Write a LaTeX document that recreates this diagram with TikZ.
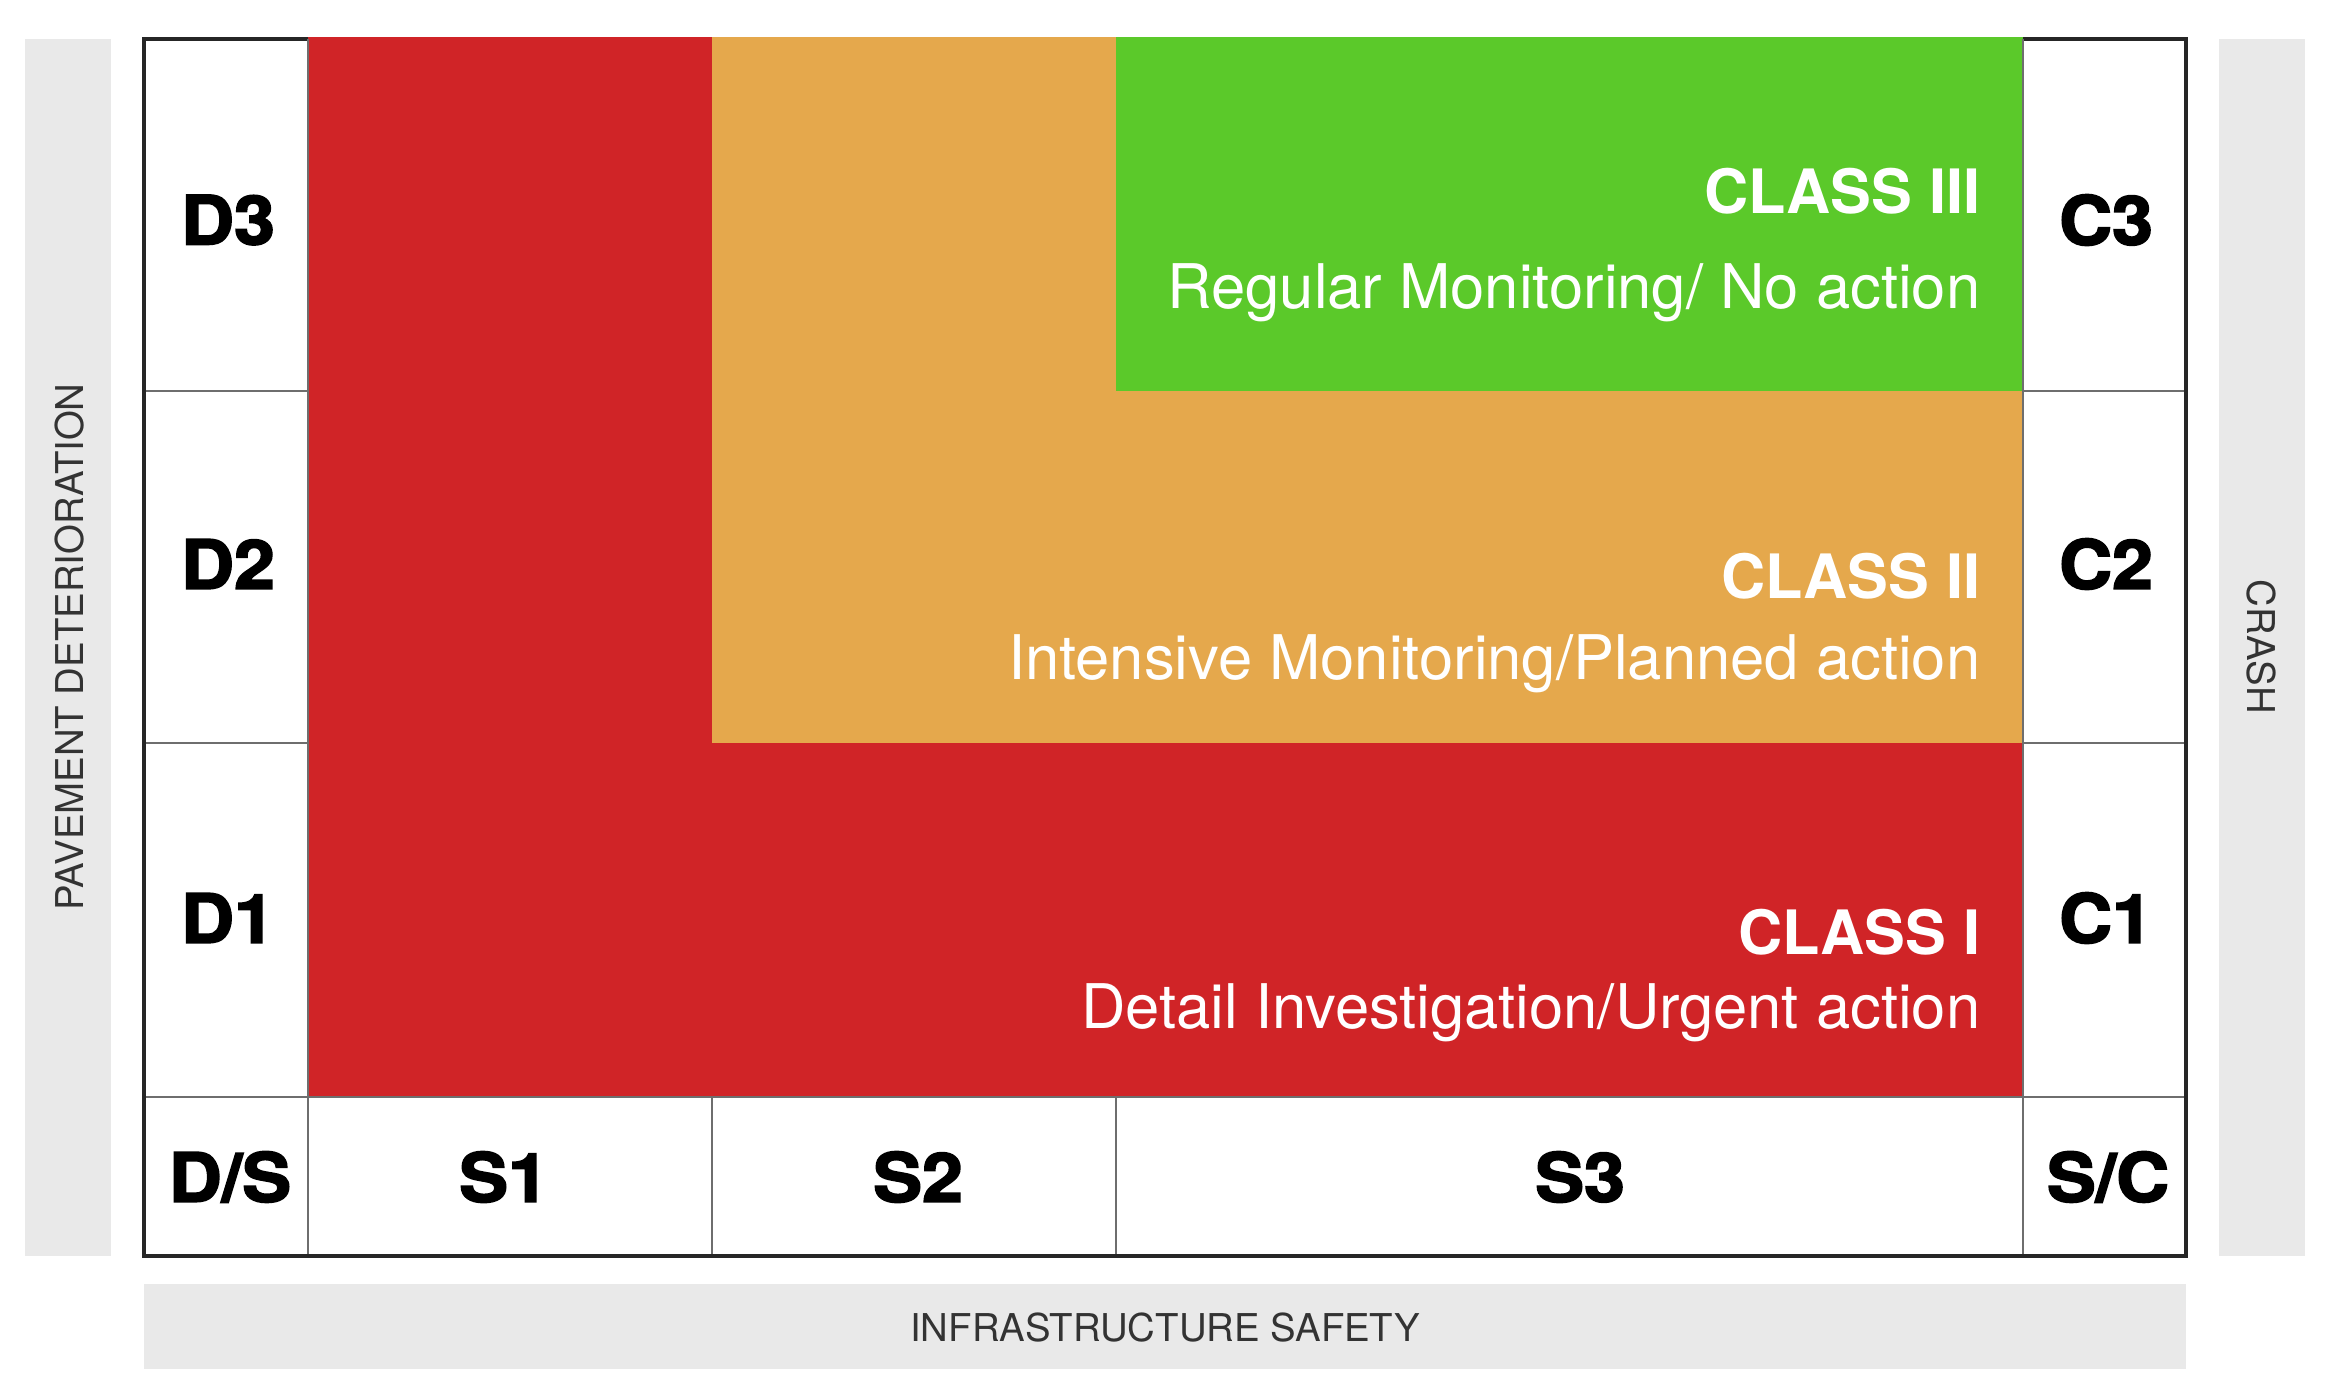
\documentclass[tikz,border=0pt]{standalone}
\usepackage{fontspec}
\setmainfont{TeX Gyre Heros}
\newfontfamily\heavyfont{texgyreheros-bold.otf}[FakeBold=2.5]
\usepackage{tikz}

\definecolor{classred}{HTML}{D02427}
\definecolor{classorange}{HTML}{E5A84C}
\definecolor{classgreen}{HTML}{5BC92A}
\definecolor{bandgray}{HTML}{E9E9E9}
\definecolor{gridgray}{HTML}{6E6E6E}

\begin{document}
\begin{tikzpicture}[
		x=0.01cm,
		y=-0.01cm,
		every node/.style={inner sep=0pt},
		border/.style={draw=black!85, line width=0.9pt},
		gridline/.style={draw=gridgray, line width=0.6pt},
		cell/.style={font=\heavyfont\fontsize{19.3}{20}\selectfont, xscale=1.08},
		classname/.style={font=\bfseries\fontsize{17.4}{18}\selectfont, text=white, anchor=base east},
		classtext/.style={font=\fontsize{17.5}{18}\selectfont, text=white, anchor=base east},
		axislabel/.style={font=\fontsize{10.9}{12}\selectfont, text=black!80}
		]
		\useasboundingbox (0,0) rectangle (2330,1393);
		
		% Grey bands round the matrix
		\fill[bandgray] (25,39) rectangle (111,1256);
		\fill[bandgray] (2219,39) rectangle (2305,1256);
		\fill[bandgray] (144,1284) rectangle (2186,1369);
		
		% Outer frame
		\draw[border] (144,39) rectangle (2186,1256);
		
		% Class zones
		\fill[classred] (308,37) rectangle (2023,1097);
		\fill[classorange] (712,37) rectangle (2023,743);
		\fill[classgreen] (1116,37) rectangle (2023,391);
		
		% Grid lines
		\draw[gridline] (308,39) -- (308,1256);
		\draw[gridline] (2023,39) -- (2023,1256);
		\draw[gridline] (144,1097) -- (2186,1097);
		\foreach \y in {391,743}{
			\draw[gridline] (144,\y) -- (308,\y);
			\draw[gridline] (2023,\y) -- (2186,\y);
		}
		\foreach \x in {712,1116}{
			\draw[gridline] (\x,1097) -- (\x,1256);
		}
		\draw[border] (144,1256) -- (2186,1256) (2186,39) -- (2186,1256) (144,39) -- (144,1256);
		
		% Row labels
		\foreach \y/\row in {220/3, 564/2, 918/1}{
			\node[cell] (D\row) at (228,\y) {D\row};
			\node[cell] (C\row) at (2106,\y) {C\row};
		}
		
		% Column labels
		\foreach \x/\name/\label in {
			230/ds/{D/S},
			504/s1/{S1},
			918/s2/{S2},
			1580/s3/{S3},
			2108/sc/{S/C}
		}{
			\node[cell] (\name) at (\x,1177) {\label};
		}
		
		% Class texts
		\node[classname] (class3) at (1981,213) {CLASS III};
		\node[classtext] (class3text) at (1981,308) {Regular Monitoring/ No action};
		\node[classname] (class2) at (1981,598) {CLASS II};
		\node[classtext] (class2text) at (1981,679) {Intensive Monitoring/Planned action};
		\node[classname] (class1) at (1981,954) {CLASS I};
		\node[classtext] (class1text) at (1981,1028) {Detail Investigation/Urgent action};
		
		% Axis names
		\node[axislabel, rotate=90] (pavement) at (70,647) {PAVEMENT DETERIORATION};
		\node[axislabel, rotate=-90] (crash) at (2261,647) {CRASH};
		\node[axislabel] (safety) at (1165,1327) {INFRASTRUCTURE SAFETY};
		
	\end{tikzpicture}
\end{document}
